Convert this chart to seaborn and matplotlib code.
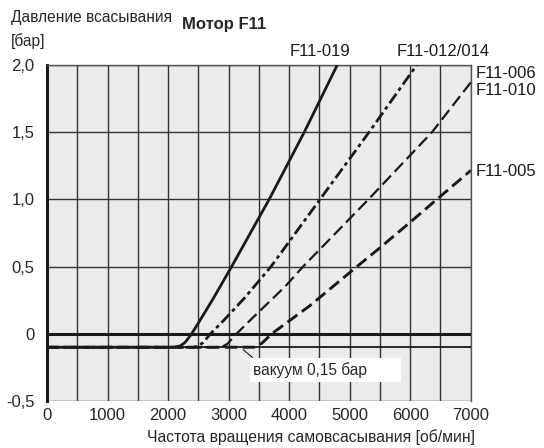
import matplotlib
matplotlib.use("Agg")
import numpy as np
import pandas as pd
import matplotlib.pyplot as plt
import seaborn as sns
from matplotlib.patches import Rectangle

# curves: self-priming speed [rpm] vs suction pressure [bar]
rpm_019 = [0, 2100, 2200, 2280, 2390, 2500, 2750, 3050, 3670, 4250, 4795]
bar_019 = [-0.1, -0.1, -0.09, -0.065, 0.0, 0.08, 0.265, 0.5, 1.0, 1.5, 2.0]

rpm_012 = [0, 2420, 2500, 2580, 2700, 2920, 3270, 3700, 4510, 5320, 6108]
bar_012 = [-0.1, -0.1, -0.09, -0.065, 0.0, 0.1, 0.27, 0.5, 1.0, 1.5, 2.0]

rpm_006 = [0, 2880, 2980, 3130, 3400, 3930, 4230, 5310, 6360, 7000]
bar_006 = [-0.1, -0.1, -0.075, 0.0, 0.12, 0.35, 0.5, 1.0, 1.5, 1.87]

rpm_005 = [0, 3420, 3550, 3712, 4345, 4705, 5120, 5500, 6000, 6440, 7000]
bar_005 = [-0.1, -0.1, -0.07, 0.0, 0.21, 0.345, 0.5, 0.64, 0.83, 1.0, 1.215]

x_ticks = [0, 1000, 2000, 3000, 4000, 5000, 6000, 7000]
y_ticks = [-0.5, 0, 0.5, 1.0, 1.5, 2.0]
y_ticklabels = ["-0,5", "0", "0,5", "1,0", "1,5", "2,0"]

vacuum_level = -0.1
vacuum_text = "вакуум 0,15 бар"

sns.set_style("white", {"axes.facecolor": "#ebebeb"})
plt.rcParams["font.family"] = ["Liberation Sans", "DejaVu Sans"]

fig = plt.figure(figsize=(5.44, 4.48), dpi=100)
ax = fig.add_axes([0.0864, 0.1049, 0.7789, 0.75])

ink = "#1a1a1a"
curves = [
    ("F11-019", rpm_019, bar_019, 2.0, None),
    ("F11-012/014", rpm_012, bar_012, 2.0, (4.2, 1.4, 1.3, 1.4)),
    ("F11-006/010", rpm_006, bar_006, 1.6, (5.5, 2.4)),
    ("F11-005", rpm_005, bar_005, 2.1, (4.2, 1.9)),
]
for name, xs, ys, lw, dash in curves:
    df = pd.DataFrame({"rpm": xs, "bar": ys})
    sns.lineplot(data=df, x="rpm", y="bar", ax=ax, color=ink, lw=lw,
                 sort=False, estimator=None, zorder=4)
    line = ax.lines[-1]
    line.set_solid_capstyle("butt")
    line.set_solid_joinstyle("round")
    if dash is not None:
        line.set_dashes(dash)

# reference lines: zero and vacuum
ax.axhline(0, color=ink, lw=2.2, zorder=3)
ax.axhline(vacuum_level, color=ink, lw=1.3, zorder=3)

# vacuum annotation box
ax.add_patch(Rectangle((3355, -0.362), 2490, 0.185, facecolor="white",
                       edgecolor="none", zorder=5))
ax.text(3400, -0.27, vacuum_text, fontsize=11.2, va="center", ha="left", zorder=6)
ax.plot([3240, 3395], [-0.118, -0.176], color=ink, lw=0.8, zorder=5)

ax.set_xlim(0, 7000)
ax.set_ylim(-0.5, 2.0)
ax.set_xticks(x_ticks)
ax.set_xticks(np.arange(500, 7000, 1000), minor=True)
ax.set_yticks(y_ticks)
ax.set_yticklabels(y_ticklabels)
ax.grid(True, which="both", color="#333333", lw=1.0)
ax.set_axisbelow(True)
ax.tick_params(axis="x", which="both", length=0, labelsize=12, pad=5)
ax.tick_params(axis="y", length=8, width=1.2, labelsize=12, pad=1, color=ink)

ax.set_xlabel("")
ax.set_ylabel("")
for side in ["top", "right"]:
    ax.spines[side].set_color("#555555")
    ax.spines[side].set_linewidth(1.0)
ax.spines["bottom"].set_visible(False)
ax.spines["left"].set_color(ink)
ax.spines["left"].set_linewidth(2.2)

# curve labels
lab = dict(fontsize=12, va="center", color=ink)
fig.text(290 / 544, 1 - 52 / 448, "F11-019", ha="left", **lab)
fig.text(397 / 544, 1 - 52 / 448, "F11-012/014", ha="left", **lab)
fig.text(476 / 544, 1 - 73 / 448, "F11-006", ha="left", **lab)
fig.text(476 / 544, 1 - 90 / 448, "F11-010", ha="left", **lab)
fig.text(476 / 544, 1 - 172 / 448, "F11-005", ha="left", **lab)

# titles
fig.text(11 / 544, 1 - 10 / 448, "Давление всасывания\n[бар]", fontsize=11.2,
         ha="left", va="top", linespacing=1.6)
fig.text(182 / 544, 1 - 25 / 448, "Мотор F11", fontsize=12, fontweight="bold",
         ha="left", va="center")
fig.text(311 / 544, 1 - 437 / 448, "Частота вращения самовсасывания [об/мин]",
         fontsize=11.3, ha="center", va="center")

fig.savefig("out.png", dpi=100)
